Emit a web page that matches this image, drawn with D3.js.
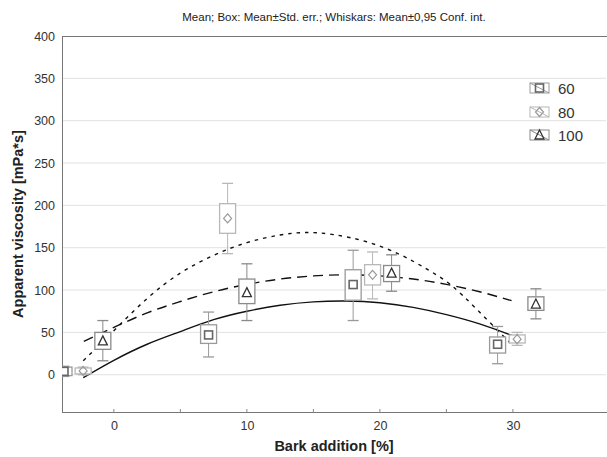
<!DOCTYPE html>
<html><head><meta charset="utf-8">
<script src="https://cdn.jsdelivr.net/npm/d3@7"></script>
<style>body{margin:0;background:#fff}svg{display:block;font-family:"Liberation Sans",Arial,sans-serif}</style>
</head><body>
<svg id="c" width="607" height="457"></svg>
<script>
// ---- data ----
const seriesNames = ["60", "80", "100"];
const xTicks = [0, 10, 20, 30];
const xMinorTicks = [0, 5, 10, 15, 20, 25, 30];
const yTicks = [0, 50, 100, 150, 200, 250, 300, 350, 400];

const x60 = [-3.75, 7.12, 17.99, 28.85];
const mean60 = [4, 47, 106.5, 36];
const boxLo60 = [-1, 37, 88, 25.6];
const boxHi60 = [9, 59, 124, 44.6];
const whLo60 = [-2, 21, 64, 13];
const whHi60 = [10, 74, 147, 57];

const x80 = [-2.31, 8.55, 19.45, 30.32];
const mean80 = [4.5, 184.6, 118, 42];
const boxLo80 = [1, 167, 106, 37.5];
const boxHi80 = [8, 202, 130, 47];
const whLo80 = [0, 143, 89.6, 34.7];
const whHi80 = [9, 226, 145, 50];

const x100 = [-0.83, 10.0, 20.88, 31.73];
const mean100 = [40, 97, 120, 83.5];
const boxLo100 = [30, 84, 110, 76];
const boxHi100 = [50, 113, 129, 92];
const whLo100 = [16.5, 64, 98.6, 66];
const whHi100 = [64, 131, 141.6, 101.5];

// fitted curves
const fit60X = [-2.3, 0, 2.5, 5, 7.5, 10, 12.5, 15, 17.5, 20, 22.5, 25, 27.5, 29.9];
const fit60Y = [-3.5, 17, 36, 51, 65, 75, 82, 86, 87, 85, 79.5, 71, 60, 46.5];
const fit80X = [-2.3, 0, 2.5, 5, 7.5, 10, 12.5, 14.5, 16.5, 19, 21.5, 23.5, 25.3, 27.3, 29.8];
const fit80Y = [16.5, 52, 90, 120, 141, 156, 165, 168, 165.5, 157, 142, 125, 106.5, 77, 37.5];
const fit100X = [-2.26, 0, 2.5, 5, 7.5, 10, 12.5, 15, 17.5, 20, 22.5, 25, 27.5, 29.9];
const fit100Y = [39.4, 56, 73, 86.5, 98, 106.7, 113, 116.7, 118, 116.7, 113, 106.7, 98, 87.5];

// ---- layout ----
const svg = d3.select("#c");
const L = 62, R = 606, T = 36, B = 412;
const x = d3.scaleLinear().domain([-3.9, 37]).range([L, R]);
const y = d3.scaleLinear().domain([-44, 400]).range([B, T]);

svg.append("defs").append("clipPath").attr("id", "clip")
  .append("rect").attr("x", L).attr("y", T).attr("width", R - L).attr("height", B - T);

// grid
svg.append("g").selectAll("line").data(yTicks.filter(d => d < 400)).join("line")
  .attr("x1", L).attr("x2", R).attr("y1", d => y(d)).attr("y2", d => y(d))
  .attr("stroke", "#e2e2e2").attr("stroke-width", 1);

// axes
const yAxis = svg.append("g").attr("transform", `translate(${L},0)`)
  .call(d3.axisLeft(y).tickValues(yTicks).tickSize(0).tickPadding(7));
yAxis.select(".domain").remove();
yAxis.selectAll("text").attr("font-size", 12.5).attr("fill", "#333")
  .attr("font-family", "Liberation Sans, Arial, sans-serif");

const xAxis = svg.append("g").attr("transform", `translate(0,${B})`)
  .call(d3.axisBottom(x).tickValues(xTicks).tickSize(0).tickPadding(9).tickFormat(d3.format("d")));
xAxis.select(".domain").remove();
xAxis.selectAll("text").attr("font-size", 12.5).attr("fill", "#333")
  .attr("font-family", "Liberation Sans, Arial, sans-serif");
svg.append("g").selectAll("line").data(xMinorTicks).join("line")
  .attr("x1", d => x(d)).attr("x2", d => x(d)).attr("y1", B).attr("y2", B - 3)
  .attr("stroke", "#888");

svg.append("line").attr("x1", L + 0.5).attr("x2", L + 0.5).attr("y1", T).attr("y2", B).attr("stroke", "#777");
svg.append("line").attr("x1", L).attr("x2", R + 1).attr("y1", B + 0.5).attr("y2", B + 0.5).attr("stroke", "#777");
svg.append("line").attr("x1", L).attr("x2", R + 1).attr("y1", T + 0.5).attr("y2", T + 0.5).attr("stroke", "#777");

// titles
svg.append("text").attr("x", 334).attr("y", 21).attr("text-anchor", "middle")
  .attr("font-size", 11.5).attr("fill", "#222")
  .text("Mean; Box: Mean±Std. err.; Whiskars: Mean±0,95 Conf. int.");
svg.append("text").attr("x", 334).attr("y", 451).attr("text-anchor", "middle")
  .attr("font-size", 14.5).attr("font-weight", "bold").attr("fill", "#222")
  .text("Bark addition [%]");
svg.append("text").attr("transform", "translate(23,224) rotate(-90)").attr("text-anchor", "middle")
  .attr("font-size", 14.5).attr("font-weight", "bold").attr("fill", "#222")
  .text("Apparent viscosity [mPa*s]");

const plot = svg.append("g").attr("clip-path", "url(#clip)");

// curves
const line = d3.line().x(d => x(d[0])).y(d => y(d[1])).curve(d3.curveNatural);
const curves = [
  {xs: fit60X, ys: fit60Y, dash: null},
  {xs: fit80X, ys: fit80Y, dash: "3.5,5"},
  {xs: fit100X, ys: fit100Y, dash: "10,6"}
];
curves.forEach(c => {
  plot.append("path").datum(c.xs.map((v, i) => [v, c.ys[i]]))
    .attr("d", line).attr("fill", "none").attr("stroke", "#111")
    .attr("stroke-width", 1.4).attr("stroke-dasharray", c.dash);
});

// box plots
const series = [
  {xs: x60, m: mean60, bl: boxLo60, bh: boxHi60, wl: whLo60, wh: whHi60, box: "#9a9a9a", mk: "#666", shape: "square"},
  {xs: x80, m: mean80, bl: boxLo80, bh: boxHi80, wl: whLo80, wh: whHi80, box: "#b8b8b8", mk: "#999", shape: "diamond"},
  {xs: x100, m: mean100, bl: boxLo100, bh: boxHi100, wl: whLo100, wh: whHi100, box: "#8a8a8a", mk: "#333", shape: "triangle"}
];
const BW = 16, CW = 11;
function marker(g, shape, cx, cy, col) {
  if (shape === "square") {
    g.append("rect").attr("x", cx - 4).attr("y", cy - 4).attr("width", 8).attr("height", 8)
      .attr("fill", "none").attr("stroke", col).attr("stroke-width", 1.6);
  } else if (shape === "diamond") {
    g.append("path").attr("d", `M${cx},${cy - 4.5}L${cx + 4},${cy}L${cx},${cy + 4.5}L${cx - 4},${cy}Z`)
      .attr("fill", "none").attr("stroke", col).attr("stroke-width", 1.2);
  } else {
    g.append("path").attr("d", `M${cx},${cy - 5}L${cx + 4.5},${cy + 4}L${cx - 4.5},${cy + 4}Z`)
      .attr("fill", "none").attr("stroke", col).attr("stroke-width", 1.3);
  }
}
series.forEach(s => {
  s.xs.forEach((xv, i) => {
    const cx = x(xv);
    const g = plot.append("g");
    g.append("line").attr("x1", cx).attr("x2", cx).attr("y1", y(s.wh[i])).attr("y2", y(s.bh[i])).attr("stroke", s.box);
    g.append("line").attr("x1", cx).attr("x2", cx).attr("y1", y(s.bl[i])).attr("y2", y(s.wl[i])).attr("stroke", s.box);
    [s.wh[i], s.wl[i]].forEach(v => g.append("line").attr("x1", cx - CW / 2).attr("x2", cx + CW / 2)
      .attr("y1", y(v)).attr("y2", y(v)).attr("stroke", s.box).attr("stroke-width", 1.3));
    g.append("rect").attr("x", cx - BW / 2).attr("y", y(s.bh[i])).attr("width", BW)
      .attr("height", y(s.bl[i]) - y(s.bh[i])).attr("fill", "#fff").attr("stroke", s.box).attr("stroke-width", 1.3);
    marker(g, s.shape, cx, y(s.m[i]), s.mk);
  });
});

// legend
const legY = [88, 112, 135];
series.forEach((s, i) => {
  const g = svg.append("g").attr("transform", `translate(530,${legY[i] - 5})`);
  g.append("rect").attr("x", 0).attr("y", 0).attr("width", 19).attr("height", 10)
    .attr("fill", "#fff").attr("stroke", s.box).attr("stroke-width", 1);
  g.append("line").attr("x1", 0).attr("y1", 0).attr("x2", 19).attr("y2", 10).attr("stroke", s.box);
  marker(g, s.shape, 9.5, 5, s.mk);
  svg.append("text").attr("x", 558).attr("y", legY[i] + 5.5).attr("font-size", 15).attr("fill", "#333")
    .text(seriesNames[i]);
});
</script>
</body></html>
